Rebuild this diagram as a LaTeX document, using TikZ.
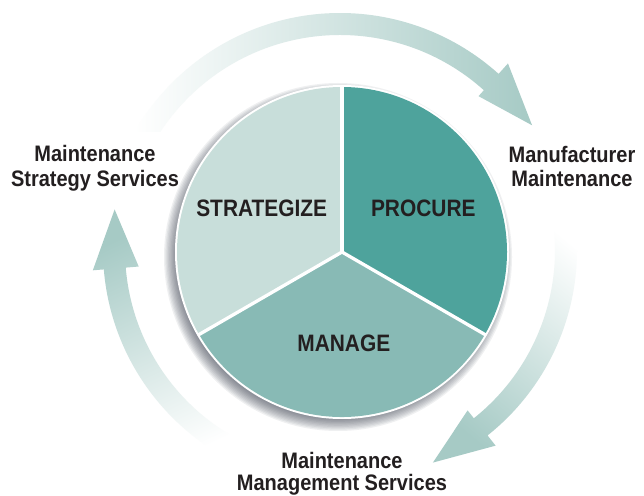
\documentclass[tikz,border=0pt]{standalone}
\usepackage{fontspec}
\setmainfont{Liberation Sans}
\usepackage{graphicx}
\usetikzlibrary{calc}
\definecolor{acol}{HTML}{A6CAC5}
\definecolor{cStr}{HTML}{C8DEDA}
\definecolor{cPro}{HTML}{4EA39C}
\definecolor{cMan}{HTML}{88BAB5}
\definecolor{txt}{HTML}{231F20}
\definecolor{shd}{HTML}{3C4150}
\tikzset{
  pielab/.style={anchor=base, text=txt, inner sep=0pt, font=\fontsize{22}{22}\selectfont\bfseries},
  outlab/.style={anchor=base, text=txt, inner sep=0pt, font=\fontsize{20}{20}\selectfont\bfseries},
  divider/.style={white, line width=3.3pt}
}
\newcommand{\pietxt}[1]{\scalebox{0.95}[1.08]{#1}}
\newcommand{\outtxt}[1]{\scalebox{1}[1.12]{#1}}
\begin{document}
\begin{tikzpicture}[x=1pt,y=1pt]
\useasboundingbox (0,0) rectangle (644,495);
\fill[white] (0,0) rectangle (644,495);
\coordinate (C) at (340,245);
\coordinate (P) at (342,243);
% top arrow
\shade[left color=white, right color=acol]
 ($(C)+(150.1:237)$) arc[start angle=150.1, end angle=48, radius=237]
 -- ($(C)+(48:251)$) -- ($(C)+(33:229)$) -- ($(C)+(48:207)$) -- ($(C)+(48:215)$)
 arc[start angle=48, end angle=146.7, radius=215] -- cycle;
% right arrow
\shade[top color=white, bottom color=acol, shading angle=-40]
 ($(C)+(11.7:237)$) arc[start angle=11.7, end angle=-51.5, radius=237]
 -- ($(C)+(-51.5:250)$) -- ($(C)+(-66.4:232)$) -- ($(C)+(-51.5:205)$) -- ($(C)+(-51.5:215)$)
 arc[start angle=-51.5, end angle=12.9, radius=215] -- cycle;
% left arrow
\shade[top color=acol, bottom color=white, shading angle=25]
 ($(C)+(244.4:215)$) arc[start angle=244.4, end angle=184.7, radius=215]
 -- ($(C)+(184.7:202)$) -- ($(C)+(169.8:229)$) -- ($(C)+(184.7:248)$) -- ($(C)+(184.7:237)$)
 arc[start angle=184.7, end angle=246.9, radius=237] -- cycle;
% shadow
\foreach \i in {0,...,9} {
  \fill[shd, opacity=0.08] ($(P)+(-4,-5)$) circle ({174-\i*1.3});
}
\fill[white] (P) circle (167);
% sectors
\fill[cPro] (P) -- ++(90:165) arc[start angle=90, end angle=-30, radius=165] -- cycle;
\fill[cMan] (P) -- ++(-30:165) arc[start angle=-30, end angle=-150, radius=165] -- cycle;
\fill[cStr] (P) -- ++(90:165) arc[start angle=90, end angle=210, radius=165] -- cycle;
\draw[divider] (P) -- ++(90:166);
\draw[divider] (P) -- ++(-30:166);
\draw[divider] (P) -- ++(210:166);
% pie labels
\node[pielab] (strat) at (261.7,278.3) {\pietxt{STRATEGIZE}};
\node[pielab] (proc) at (423.3,278.3) {\pietxt{PROCURE}};
\node[pielab] (man) at (343.8,143.3) {\pietxt{MANAGE}};
% outer labels
\node[outlab] (l1) at (95,333) {\outtxt{Maintenance}};
\node[outlab] (l2) at (95,308) {\outtxt{Strategy Services}};
\node[outlab] (r1) at (572,332) {\outtxt{Manufacturer}};
\node[outlab] (r2) at (572,308) {\outtxt{Maintenance}};
\node[outlab] (b1) at (342,27) {\outtxt{Maintenance}};
\node[outlab] (b2) at (342,4.6) {\outtxt{Management Services}};
\end{tikzpicture}
\end{document}
